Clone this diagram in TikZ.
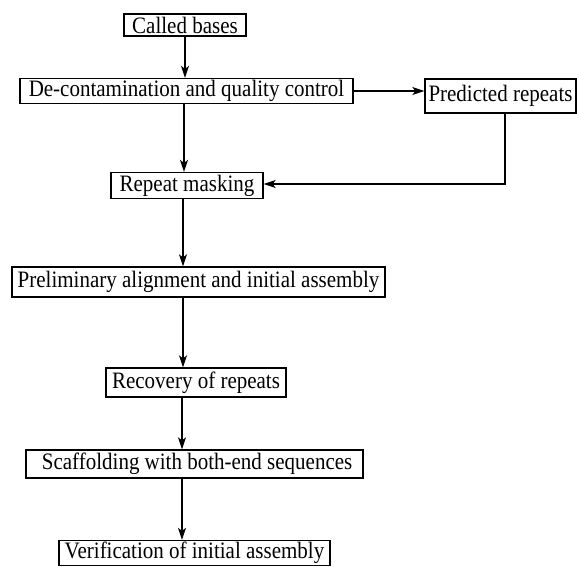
\documentclass[tikz,border=0pt]{standalone}
\usepackage{graphicx}
\usepackage{fontspec}
\setmainfont{Liberation Serif}
\usetikzlibrary{arrows.meta}
\newcommand{\tallt}[1]{\scalebox{1}[1.12]{#1}}
\begin{document}
\begin{tikzpicture}[x=1pt,y=-1pt,
  box/.style={draw,line width=1.3pt,inner sep=0pt,font=\fontsize{21}{25}\selectfont},
  arr/.style={line width=1.3pt,-{Stealth[length=12pt,width=8pt,inset=3pt]}},
  ln/.style={line width=1.3pt}]
\useasboundingbox (0,0) rectangle (577,566);
\node[box,minimum width=122pt,minimum height=22pt] (cb) at (185,25) {\tallt{Called bases}};
\node[box,minimum width=333pt,minimum height=25pt] (dc) at (186.5,91) {\tallt{De-contamination and quality control}};
\node[box,minimum width=151pt,minimum height=34pt] (pr) at (500.5,96) {\tallt{Predicted repeats}};
\node[box,minimum width=152pt,minimum height=26pt] (rm) at (187,185.5) {\tallt{Repeat masking}};
\node[box,minimum width=373pt,minimum height=30pt] (pa) at (198.5,282) {\tallt{Preliminary alignment and initial assembly}};
\node[box,minimum width=180pt,minimum height=29pt] (rr) at (196,382.5) {\tallt{Recovery of repeats}};
\node[box,minimum width=337pt,minimum height=28pt] (sc) at (194.5,464) {\tallt{\ Scaffolding with both-end sequences}};
\node[box,minimum width=271pt,minimum height=25pt] (vf) at (194.5,553) {\tallt{Verification of initial assembly}};
\coordinate (xa) at (185,0);
\coordinate (xb) at (184,0);
\coordinate (xc) at (183,0);
\coordinate (xd) at (182,0);
\coordinate (xp) at (505,0);
\coordinate (yr) at (0,184);
\draw[arr] (cb.south -| xa) -- (dc.north -| xa);
\draw[arr] (dc.east) -- (pr.west |- dc.east);
\draw[arr] (dc.south -| xb) -- (rm.north -| xb);
\draw[arr] (pr.south -| xp) -- (xp |- yr) -- (rm.east |- yr);
\draw[arr] (rm.south -| xc) -- (pa.north -| xc);
\draw[arr] (pa.south -| xc) -- (rr.north -| xc);
\draw[arr] (rr.south -| xd) -- (sc.north -| xd);
\draw[arr] (sc.south -| xd) -- (vf.north -| xd);
\end{tikzpicture}
\end{document}
